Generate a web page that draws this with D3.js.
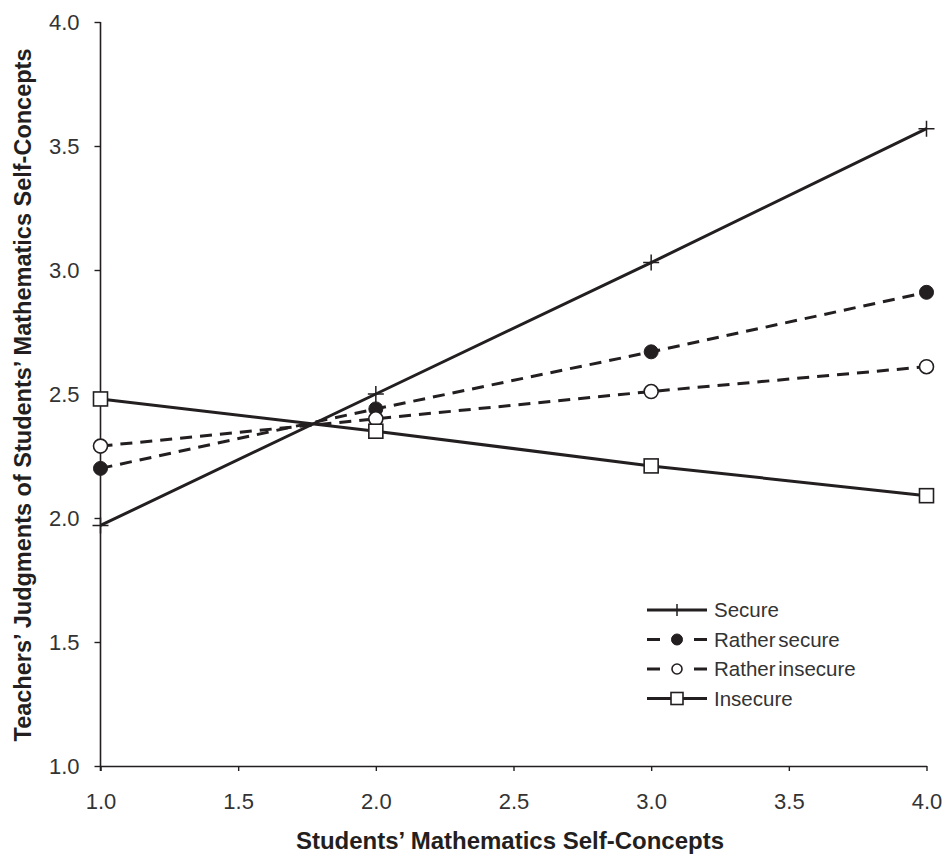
<!DOCTYPE html>
<html>
<head>
<meta charset="utf-8">
<script src="https://cdn.jsdelivr.net/npm/d3@7"></script>
<style>
  body { margin: 0; background: #fff; }
  svg { display: block; }
  text { font-family: "Liberation Sans", Arial, sans-serif; }
</style>
</head>
<body>
<svg id="svg" width="944" height="855"></svg>
<script>
//Data
const X_VALUES = [1.0, 2.0, 3.0, 4.0];
const SECURE = [1.97, 2.50, 3.03, 3.57];
const RATHER_SECURE = [2.20, 2.44, 2.67, 2.91];
const RATHER_INSECURE = [2.29, 2.40, 2.51, 2.61];
const INSECURE = [2.48, 2.35, 2.21, 2.09];
const SERIES_NAMES = ["Secure", "Rather secure", "Rather insecure", "Insecure"];
const X_TICKS = [1.0, 1.5, 2.0, 2.5, 3.0, 3.5, 4.0];
const Y_TICKS = [1.0, 1.5, 2.0, 2.5, 3.0, 3.5, 4.0];
const X_LABEL = "Students\u2019 Mathematics Self-Concepts";
const Y_LABEL = "Teachers\u2019 Judgments of Students\u2019 Mathematics  Self-Concepts";

const SVG = d3.select("#svg");
const INK = "#231f20";

let x_scale = d3.scaleLinear().domain([1, 4]).range([100.5, 926.5]);
let y_scale = d3.scaleLinear().domain([1, 4]).range([766, 22]);

//Axes
let x_axis = d3.axisBottom(x_scale).tickValues(X_TICKS).tickFormat(d3.format(".1f")).tickSize(5).tickSizeOuter(0);
let y_axis = d3.axisLeft(y_scale).tickValues(Y_TICKS).tickFormat(d3.format(".1f")).tickSize(6).tickSizeOuter(0);

let gx = SVG.append("g").attr("transform", "translate(0,766)").call(x_axis);
let gy = SVG.append("g").attr("transform", "translate(100.5,0)").call(y_axis);
[gx, gy].forEach(g => {
    g.select(".domain").attr("stroke", INK).attr("stroke-width", 1.6);
    g.selectAll(".tick line").attr("stroke", INK).attr("stroke-width", 1.4);
    g.selectAll(".tick text").attr("fill", "#333").attr("font-size", 22)
        .attr("font-family", "'Liberation Sans', Arial, sans-serif");
});
gx.selectAll(".tick text").attr("y", 43).attr("dy", null);
gy.selectAll(".tick text").attr("x", -21);
gy.select(".domain").attr("d", "M0,22V771");

//Axis titles
SVG.append("text")
    .attr("x", 510).attr("y", 849)
    .attr("text-anchor", "middle")
    .attr("font-size", 24).attr("font-weight", "bold").attr("fill", INK)
    .text(X_LABEL);
SVG.append("text")
    .attr("transform", "translate(31,395) rotate(-90)")
    .attr("text-anchor", "middle")
    .attr("font-size", 23.5).attr("font-weight", "bold").attr("fill", INK)
    .text(Y_LABEL);

//Series
const SERIES = [
    { name: SERIES_NAMES[0], values: SECURE, dash: null, marker: "plus" },
    { name: SERIES_NAMES[1], values: RATHER_SECURE, dash: "12,8", marker: "filled" },
    { name: SERIES_NAMES[2], values: RATHER_INSECURE, dash: "12,8", marker: "open" },
    { name: SERIES_NAMES[3], values: INSECURE, dash: null, marker: "square" }
];

let line = d3.line()
    .x((d, i) => x_scale(X_VALUES[i]))
    .y(d => y_scale(d));

function drawMarker(g, type, cx, cy, big)
{
    if(type === "plus")
    {
        let s = big ? 8 : 6;
        g.append("path")
            .attr("d", `M${cx - s},${cy}H${cx + s}M${cx},${cy - s}V${cy + s}`)
            .attr("stroke", INK).attr("stroke-width", 1.5).attr("fill", "none");
    }
    else if(type === "filled")
    {
        g.append("circle").attr("cx", cx).attr("cy", cy).attr("r", big ? 7 : 5.5)
            .attr("fill", INK).attr("stroke", INK).attr("stroke-width", 1);
    }
    else if(type === "open")
    {
        g.append("circle").attr("cx", cx).attr("cy", cy).attr("r", big ? 7 : 5)
            .attr("fill", "#fff").attr("stroke", INK).attr("stroke-width", 1.6);
    }
    else
    {
        let s = big ? 7 : 6;
        g.append("rect").attr("x", cx - s).attr("y", cy - s).attr("width", 2 * s).attr("height", 2 * s)
            .attr("fill", "#fff").attr("stroke", INK).attr("stroke-width", 1.6);
    }
}

let plot = SVG.append("g");
SERIES.forEach(s => {
    plot.append("path")
        .attr("d", line(s.values))
        .attr("fill", "none")
        .attr("stroke", INK)
        .attr("stroke-width", 3)
        .attr("stroke-dasharray", s.dash);
});
SERIES.forEach(s => {
    s.values.forEach((v, i) => drawMarker(plot, s.marker, x_scale(X_VALUES[i]), y_scale(v), true));
});

//Legend
let legend = SVG.append("g");
SERIES.forEach((s, i) => {
    let y = 610 + i * 29.5;
    if(s.dash)
    {
        legend.append("path").attr("d", `M647,${y}H660M694,${y}H707`)
            .attr("stroke", INK).attr("stroke-width", 3);
    }
    else
    {
        legend.append("path").attr("d", `M647,${y}H707`)
            .attr("stroke", INK).attr("stroke-width", 3);
    }
    drawMarker(legend, s.marker, 677, y, false);
    legend.append("text")
        .attr("x", 714).attr("y", y).attr("dy", "0.36em")
        .attr("font-size", 20.5).attr("word-spacing", -3).attr("fill", "#333")
        .text(s.name);
});
</script>
</body>
</html>
